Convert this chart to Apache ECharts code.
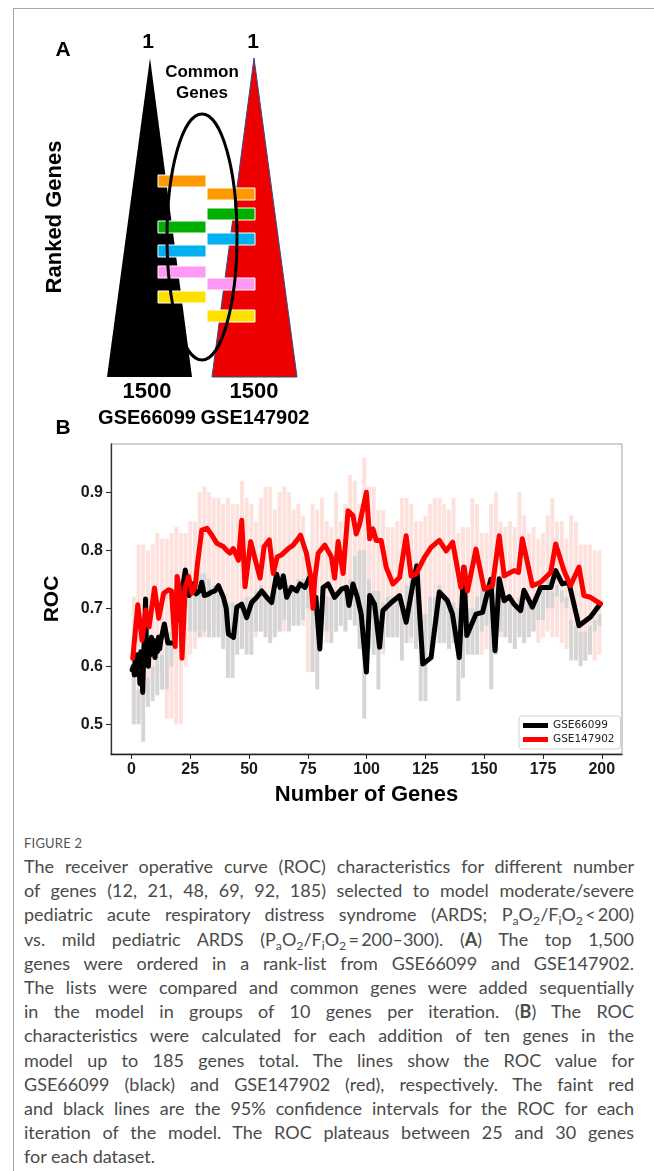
<!DOCTYPE html>
<html>
<head>
<meta charset="utf-8">
<script src="https://cdn.jsdelivr.net/npm/echarts@6/dist/echarts.min.js"></script>
<style>
html,body{margin:0;padding:0;background:#fff;}
#page{position:relative;width:654px;height:1171px;overflow:hidden;background:#fff;}
#frame{position:absolute;left:13px;top:8px;width:700px;height:1200px;border-left:1px solid #a8a8a8;border-top:1px solid #a8a8a8;}
#chart{position:absolute;left:0;top:0;width:654px;height:812px;}
#caption{position:absolute;left:24px;top:832px;width:610px;font-family:Lato,"Open Sans",sans-serif;color:#4a4a4a;}
#caption .fig{font-size:13px;height:22px;line-height:22px;color:#555;letter-spacing:0.2px;}
#caption .ln{font-size:18px;height:24.2px;line-height:24.2px;white-space:nowrap;text-align:justify;text-align-last:justify;}
#caption .ln.last{text-align:left;text-align-last:left;}
#caption sub{font-size:0.68em;vertical-align:-0.3em;line-height:0;}
#caption b{font-weight:bold;}
</style>
</head>
<body>
<div id="page">
  <div id="frame"></div>
  <div id="chart"></div>
  <div id="caption">
    <div class="fig">FIGURE 2</div>
    <div class="ln">The receiver operative curve (ROC) characteristics for different number</div>
    <div class="ln">of genes (12, 21, 48, 69, 92, 185) selected to model moderate/severe</div>
    <div class="ln">pediatric acute respiratory distress syndrome (ARDS; P<sub>a</sub>O<sub>2</sub>/F<sub>i</sub>O<sub>2</sub>&#8201;&lt;&#8201;200)</div>
    <div class="ln">vs. mild pediatric ARDS (P<sub>a</sub>O<sub>2</sub>/F<sub>i</sub>O<sub>2</sub>&#8201;=&#8201;200&ndash;300). (<b>A</b>) The top 1,500</div>
    <div class="ln">genes were ordered in a rank-list from GSE66099 and GSE147902.</div>
    <div class="ln">The lists were compared and common genes were added sequentially</div>
    <div class="ln">in the model in groups of 10 genes per iteration. (<b>B</b>) The ROC</div>
    <div class="ln">characteristics were calculated for each addition of ten genes in the</div>
    <div class="ln">model up to 185 genes total. The lines show the ROC value for</div>
    <div class="ln">GSE66099 (black) and GSE147902 (red), respectively. The faint red</div>
    <div class="ln">and black lines are the 95% confidence intervals for the ROC for each</div>
    <div class="ln">iteration of the model. The ROC plateaus between 25 and 30 genes</div>
    <div class="ln last">for each dataset.</div>
  </div>
</div>
<script>
// ---------- panel B data ----------
var xTicks = [0, 25, 50, 75, 100, 125, 150, 175, 200];
var yTicks = [0.5, 0.6, 0.7, 0.8, 0.9];

// GSE147902 (red) ROC
var redX = [0.55,2.7,4.5,6.1,7.5,9.8,11.6,13.7,15.8,17.0,18.6,19.4,20.8,21.5,22.9,24.3,25.7,27.1,28.1,29.9,
  32.1,34.2,36.3,39.2,40.5,41.9,43.3,45.5,46.9,48.3,50.7,52.5,54.7,56.4,58.6,60.3,62.0,63.8,66.7,68.8,
  70.5,71.9,74.4,76.1,77.2,77.9,79.4,82.2,85.0,86.4,87.9,90.0,92.1,94.2,95.6,97.0,99.9,101.3,102.7,104.1,
  106.2,108.3,111.2,114.0,116.8,118.9,121.0,124.6,127.4,130.9,133.8,136.6,140.1,141.5,142.9,146.5,150.0,153.5,156.4,158.5,
  162.7,164.6,166.2,170.5,174.0,178.3,180.4,183.9,186.7,190.3,192.4,195.2,199.4];
var redY = [0.614,0.706,0.645,0.697,0.668,0.735,0.683,0.726,0.732,0.730,0.634,0.755,0.726,0.614,0.737,0.755,0.726,0.737,0.778,0.835,
  0.838,0.826,0.812,0.806,0.800,0.795,0.803,0.783,0.852,0.737,0.815,0.786,0.752,0.806,0.818,0.760,0.789,0.792,0.803,0.809,
  0.818,0.826,0.795,0.757,0.700,0.749,0.795,0.809,0.789,0.752,0.815,0.760,0.868,0.860,0.828,0.845,0.900,0.820,0.837,0.817,
  0.817,0.771,0.742,0.753,0.825,0.756,0.759,0.788,0.805,0.817,0.799,0.814,0.736,0.771,0.730,0.802,0.733,0.739,0.825,0.756,
  0.765,0.762,0.820,0.739,0.745,0.762,0.811,0.765,0.739,0.771,0.722,0.719,0.708];

// GSE66099 (black) ROC, '-' marks a gap in the line
var blackX = [0.3,0.8,1.2,1.6,2.0,2.4,2.8,3.2,3.6,4.0,4.4,4.8,5.2,5.6,6.0,6.4,6.8,7.2,7.6,8.0,
  8.5,9.0,9.5,10.0,10.5,11.0,11.5,12.0,12.5,13.0,14.0,14.8,15.5,16.3,17.2,18.8,
  20.5,21.5,22.9,23.8,24.5,26.1,27.5,29.0,29.9,31.0,32.5,34.0,35.5,37.0,39.1,40.3,41.2,43.4,44.8,46.9,
  49.0,51.1,53.3,55.4,57.5,59.6,61.7,63.2,64.6,66.0,68.1,70.3,71.7,73.8,75.7,76.5,
  77.3,78.4,80.1,81.5,83.6,86.4,89.3,91.4,92.5,94.2,96.0,97.7,99.9,101.3,103.4,105.5,106.9,110.5,
  114.0,116.8,119.6,121.3,123.9,127.4,130.9,134.4,136.5,139.4,141.3,142.6,146.5,149.3,152.8,154.6,156.4,158.5,160.6,162.7,
  165.5,166.9,170.5,174.0,178.3,180.4,183.2,186.0,190.3,195.2,199.4];
var blackY = [0.594,0.600,0.585,0.615,0.590,0.620,0.585,0.600,0.570,0.625,0.590,0.555,0.620,0.660,0.716,0.620,0.645,0.600,0.640,0.620,
  0.650,0.630,0.645,0.615,0.640,0.625,0.650,0.630,0.645,0.655,0.673,0.655,0.640,0.638,0.640,'-',
  0.725,0.730,0.766,0.740,0.722,0.742,0.725,0.730,0.745,0.722,0.724,0.728,0.730,0.739,0.719,0.700,0.656,0.650,0.702,0.707,
  0.684,0.710,0.719,0.730,0.719,0.710,0.759,0.736,0.756,0.719,0.736,0.730,0.742,0.736,0.753,'-',
  0.713,0.719,0.630,0.736,0.742,0.719,0.733,0.736,0.705,0.742,0.720,0.690,0.590,0.722,0.707,0.633,0.696,0.710,
  0.722,0.676,0.740,0.773,0.604,0.615,0.728,0.713,0.690,0.615,0.771,0.653,0.690,0.693,0.750,0.627,0.751,0.713,0.720,0.707,
  0.696,0.731,0.702,0.736,0.736,0.765,0.742,0.745,0.670,0.685,0.708];
// lone black points between the first two runs
var blackDotX = [18.3, 19.3];
var blackDotY = [0.691, 0.680];

// 95% CI bands, one per iteration
var ciX = [1,3,5,7,9,11,13,15,17,19,21,23,25,27,29,31,33,35,37,39,
  41,43,45,47,49,51,53,55,57,59,61,63,65,67,69,71,73,75,77,79,
  81,83,85,87,89,91,93,95,97,99,101,103,105,107,109,111,113,115,117,119,
  121,123,125,127,129,131,133,135,137,139,141,143,145,147,149,151,153,155,157,159,
  161,163,165,167,169,171,173,175,177,179,181,183,185,187,189,191,193,195,197,199];
var redHi = [0.72,0.81,0.81,0.80,0.81,0.83,0.82,0.82,0.83,0.84,0.83,0.83,0.85,0.85,0.90,0.91,0.90,0.89,0.89,0.88,
  0.89,0.88,0.88,0.92,0.89,0.88,0.85,0.89,0.91,0.91,0.87,0.90,0.91,0.90,0.87,0.88,0.86,0.80,0.88,0.87,
  0.89,0.85,0.84,0.90,0.85,0.88,0.93,0.92,0.88,0.96,0.91,0.91,0.87,0.87,0.84,0.84,0.85,0.89,0.89,0.88,
  0.85,0.85,0.86,0.88,0.89,0.89,0.88,0.87,0.89,0.83,0.84,0.84,0.89,0.88,0.83,0.83,0.88,0.90,0.85,0.84,
  0.85,0.84,0.90,0.86,0.83,0.84,0.82,0.83,0.86,0.89,0.85,0.85,0.82,0.86,0.85,0.81,0.81,0.81,0.80,0.80];
var redLo = [0.51,0.51,0.54,0.58,0.58,0.59,0.59,0.51,0.51,0.50,0.50,0.60,0.62,0.63,0.65,0.65,0.66,0.67,0.67,0.64,
  0.63,0.64,0.66,0.64,0.66,0.66,0.65,0.66,0.66,0.65,0.68,0.66,0.66,0.68,0.69,0.70,0.67,0.59,0.59,0.66,
  0.67,0.64,0.66,0.66,0.67,0.66,0.70,0.70,0.66,0.63,0.63,0.66,0.64,0.62,0.65,0.65,0.66,0.66,0.66,0.64,
  0.63,0.63,0.65,0.66,0.66,0.67,0.65,0.64,0.65,0.63,0.64,0.64,0.65,0.64,0.62,0.63,0.63,0.64,0.65,0.65,
  0.66,0.66,0.66,0.65,0.66,0.66,0.64,0.65,0.66,0.65,0.65,0.64,0.63,0.63,0.62,0.62,0.61,0.63,0.61,0.62];
var grayHi = [0.58,0.56,0.56,0.58,0.60,0.62,0.62,0.65,0.66,0.70,0.74,0.76,0.75,0.75,0.76,0.76,0.75,0.74,0.73,0.72,
  0.71,0.71,0.70,0.71,0.72,0.72,0.73,0.74,0.73,0.72,0.74,0.76,0.75,0.74,0.74,0.75,0.75,0.76,0.72,0.72,
  0.73,0.72,0.72,0.73,0.73,0.74,0.75,0.79,0.80,0.80,0.75,0.73,0.73,0.71,0.72,0.72,0.72,0.70,0.74,0.76,
  0.78,0.68,0.69,0.72,0.72,0.74,0.72,0.71,0.71,0.70,0.75,0.70,0.70,0.72,0.73,0.74,0.75,0.75,0.74,0.72,
  0.72,0.70,0.72,0.71,0.72,0.72,0.73,0.74,0.75,0.73,0.74,0.73,0.72,0.68,0.67,0.66,0.66,0.67,0.68,0.69];
var grayLo = [0.50,0.50,0.47,0.53,0.54,0.55,0.56,0.56,0.60,0.64,0.70,0.70,0.66,0.66,0.65,0.66,0.65,0.65,0.65,0.63,
  0.58,0.58,0.62,0.63,0.62,0.62,0.66,0.66,0.65,0.64,0.65,0.66,0.68,0.66,0.67,0.67,0.68,0.70,0.59,0.56,
  0.67,0.66,0.64,0.66,0.67,0.66,0.68,0.67,0.63,0.51,0.63,0.62,0.56,0.63,0.65,0.65,0.65,0.61,0.64,0.65,
  0.63,0.54,0.54,0.63,0.66,0.64,0.64,0.63,0.64,0.54,0.58,0.62,0.62,0.62,0.66,0.67,0.56,0.62,0.66,0.65,
  0.64,0.63,0.65,0.64,0.65,0.66,0.68,0.68,0.70,0.70,0.72,0.71,0.70,0.61,0.61,0.60,0.61,0.62,0.66,0.67];

var seriesNames = ['GSE66099', 'GSE147902'];

var BOLD = 'Liberation Sans';

function pairs(xs, ys){
	return xs.map(function(x, i){ return [x, ys[i]]; });
}

// faint vertical CI bars, drawn through the axes
function ciSeries(lo, hi, color){
	return {
		type: 'custom', silent: true, z: 1,
		renderItem: function(params, api){
			var top = api.coord([api.value(0), api.value(2)]);
			var bot = api.coord([api.value(0), api.value(1)]);
			var w = api.size([2, 0])[0] * 0.84;
			return {type: 'rect', shape: {x: top[0] - w / 2, y: top[1], width: w, height: bot[1] - top[1]}, style: {fill: color}};
		},
		encode: {x: 0, y: [1, 2]},
		data: ciX.map(function(x, i){ return [x, lo[i], hi[i]]; })
	};
}

// ---------- panel A schematic ----------
function panelA(){
	var g = [];
	function txt(s, x, y, size, rot){
		var t = {type: 'text', x: x, y: y, style: {text: s, fontSize: size, fontWeight: 'bold', fontFamily: BOLD,
			fill: '#000', align: 'center', verticalAlign: 'middle'}};
		if(rot) t.rotation = rot;
		g.push(t);
	}
	g.push({type: 'polygon', shape: {points: [[150, 58], [107, 377], [192, 377]]}, style: {fill: '#000'}});
	g.push({type: 'polygon', shape: {points: [[254, 58], [212, 377], [297, 377]]}, style: {fill: '#ee0000', stroke: '#2f4d8c', lineWidth: 1}});
	// gene blocks: [left, top, colour]
	var blocks = [
		[158, 175, '#ff9900'], [158, 221, '#00b000'], [158, 245, '#00b0f0'], [158, 266, '#ff99f5'], [158, 291, '#ffe100'],
		[207, 188, '#ff9900'], [207, 208, '#00b000'], [207, 233, '#00b0f0'], [207, 278, '#ff99f5'], [207, 310, '#ffe100']
	];
	blocks.forEach(function(b){
		g.push({type: 'rect', shape: {x: b[0], y: b[1], width: 48, height: 12}, style: {fill: b[2], stroke: '#fff', lineWidth: 1}});
	});
	g.push({type: 'ellipse', shape: {cx: 202, cy: 237, rx: 35, ry: 123}, style: {fill: 'none', stroke: '#000', lineWidth: 3}});
	txt('A', 63, 50, 21);
	txt('1', 148, 42, 21);
	txt('1', 253, 42, 21);
	txt('Common', 202, 72, 17);
	txt('Genes', 202, 93, 17);
	txt('Ranked Genes', 55, 217, 22, Math.PI / 2);
	txt('1500', 147, 392, 22);
	txt('1500', 254, 392, 22);
	txt('GSE66099', 147, 418, 20);
	txt('GSE147902', 255, 418, 20);
	txt('B', 63, 428, 21);
	return g;
}

var chart = echarts.init(document.getElementById('chart'), null, {renderer: 'canvas'});

var tickLabel = {fontSize: 16, fontWeight: 'bold', fontFamily: BOLD, color: '#1a1a1a'};

var option = {
	animation: false,
	backgroundColor: 'transparent',
	graphic: panelA(),
	grid: {left: 111, top: 444, width: 511, height: 310, show: true, borderColor: '#a0a0a0', borderWidth: 1},
	legend: {
		data: seriesNames, orient: 'vertical', left: 519, top: 716,
		icon: 'rect', itemWidth: 25, itemHeight: 5, itemGap: 3,
		padding: [4, 6, 4, 4], borderColor: '#cfcfcf', borderWidth: 1, borderRadius: 3, backgroundColor: '#fff',
		textStyle: {fontSize: 10.5, fontFamily: 'DejaVu Sans', color: '#222'}
	},
	xAxis: {
		type: 'value', min: -8.7, max: 208.6,
		name: 'Number of Genes', nameLocation: 'middle', nameGap: 30,
		nameTextStyle: {fontSize: 22, fontWeight: 'bold', fontFamily: BOLD, color: '#000'},
		axisLine: {show: true, onZero: false, lineStyle: {color: '#222', width: 1.3}},
		axisTick: {show: true, length: 5, customValues: xTicks, lineStyle: {color: '#222'}},
		axisLabel: Object.assign({customValues: xTicks, margin: 8}, tickLabel),
		splitLine: {show: false}
	},
	yAxis: {
		type: 'value', min: 0.4488, max: 0.9833,
		name: 'ROC', nameLocation: 'middle', nameGap: 48, nameRotate: 90,
		nameTextStyle: {fontSize: 21, fontWeight: 'bold', fontFamily: BOLD, color: '#000'},
		axisLine: {show: true, onZero: false, lineStyle: {color: '#333', width: 1.3}},
		axisTick: {show: true, length: 5, customValues: yTicks, lineStyle: {color: '#222'}},
		axisLabel: Object.assign({customValues: yTicks, margin: 8, formatter: function(v){ return v.toFixed(1); }}, tickLabel),
		splitLine: {show: false}
	},
	series: [
		ciSeries(redLo, redHi, '#fde1dd'),
		ciSeries(grayLo, grayHi, '#d5d5d5'),
		{
			name: seriesNames[0], type: 'line', z: 3, data: pairs(blackX, blackY),
			showSymbol: false, symbol: 'none', connectNulls: false, itemStyle: {color: '#000'},
			lineStyle: {color: '#000', width: 5, join: 'round', cap: 'round'}
		},
		{
			type: 'scatter', z: 3, data: pairs(blackDotX, blackDotY), symbolSize: 6,
			itemStyle: {color: '#000'}, silent: true
		},
		{
			name: seriesNames[1], type: 'line', z: 4, data: pairs(redX, redY),
			showSymbol: false, symbol: 'none', itemStyle: {color: '#ff0000'},
			lineStyle: {color: '#ff0000', width: 5, join: 'round', cap: 'round'}
		}
	]
};

chart.setOption(option);
</script>
</body>
</html>
